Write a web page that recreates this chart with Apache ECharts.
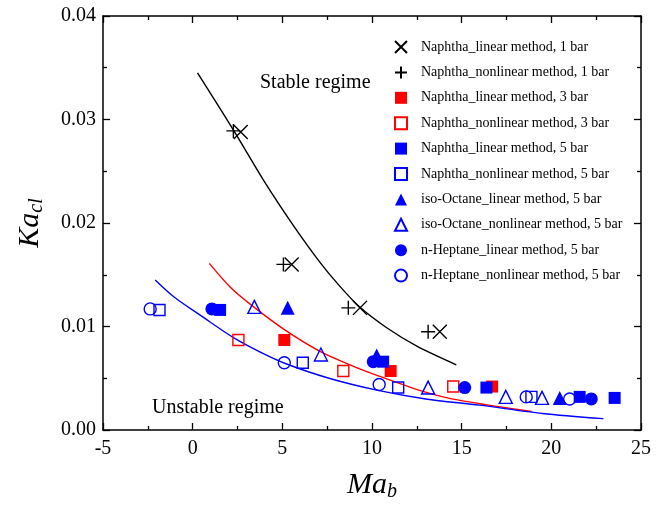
<!DOCTYPE html>
<html><head><meta charset="utf-8">
<script src="https://cdn.jsdelivr.net/npm/echarts@6/dist/echarts.min.js"></script>
<style>html,body{margin:0;padding:0;background:#fff}#c{width:668px;height:507px}</style>
</head><body><div id="c"></div>
<script>
// x ticks / y ticks
const xTicks = [-5, 0, 5, 10, 15, 20, 25];
const yTicks = [0, 0.01, 0.02, 0.03, 0.04];

// marker series [Ma_b, Ka_cl]
const naphLin1 = [[2.68,0.0288],[5.52,0.0160],[9.33,0.0118],[13.78,0.0095]];
const naphNon1 = [[2.27,0.0289],[5.06,0.0160],[8.68,0.0118],[13.13,0.0095]];
const naphLin3 = [[5.11,0.0087],[11.04,0.0057],[16.7,0.0042]];
const naphNon3 = [[2.55,0.0087],[8.4,0.0057],[14.53,0.0042]];
const naphLin5 = [[1.53,0.0116],[10.62,0.0066],[16.38,0.0041],[21.58,0.0032],[23.53,0.0031]];
const naphNon5 = [[-1.85,0.0116],[6.14,0.0065],[11.46,0.0041],[18.89,0.0032]];
const isoLin5 = [[5.3,0.0118],[10.26,0.0072],[20.47,0.0031]];
const isoNon5 = [[3.44,0.0119],[7.15,0.0073],[13.13,0.0041],[17.46,0.0032],[19.48,0.0031]];
const hepLin5 = [[1.07,0.0117],[10.07,0.0066],[15.17,0.0041],[22.23,0.0030]];
const hepNon5 = [[-2.37,0.0117],[5.11,0.0065],[10.4,0.0044],[18.6,0.0032],[21.02,0.0030]];

// fitted curves
const fitBlack = [[0.27,0.0345],[2.3,0.0289],[4.0,0.0240],[5.6,0.0198],[7.1,0.0162],[8.2,0.0139],[9.3,0.0119],[10.8,0.0099],[12.5,0.0081],[14.7,0.0063]];
const fitRed = [[0.93,0.0161],[2.1,0.0138],[3.4,0.0119],[5.2,0.0096],[7.1,0.0076],[8.9,0.0062],[10.4,0.0052],[12.7,0.0038],[14.2,0.0031],[16.5,0.0024],[18.9,0.0018]];
const fitBlue = [[-2.09,0.0145],[-1.0,0.0128],[0.5,0.0110],[2.3,0.0089],[3.8,0.0075],[5.2,0.0064],[7.6,0.0050],[10.4,0.0038],[13.0,0.0030],[16.0,0.0024],[19.5,0.0016],[22.9,0.0011]];

const legendNames = [
  'Naphtha_linear method, 1 bar','Naphtha_nonlinear method, 1 bar',
  'Naphtha_linear method, 3 bar','Naphtha_nonlinear method, 3 bar',
  'Naphtha_linear method, 5 bar','Naphtha_nonlinear method, 5 bar',
  'iso-Octane_linear method, 5 bar','iso-Octane_nonlinear method, 5 bar',
  'n-Heptane_linear method, 5 bar','n-Heptane_nonlinear method, 5 bar'
];

const RED = '#ff0000', BLUE = '#0000ff', BLK = '#000000';
const FONT = '"Liberation Serif", "Times New Roman", serif';
const CROSS = 'path://M0,0L10,10M10,0L0,10';
const PLUS = 'path://M5,0L5,10M0,5L10,5';

function sc(name, data, symbol, size, color, filled) {
  return {
    type: 'scatter', name: name, data: data, symbol: symbol, symbolSize: size,
    itemStyle: filled ? {color: color, borderColor: color, borderWidth: 0, opacity: 1}
                      : {color: 'rgba(0,0,0,0)', borderColor: color, borderWidth: 1.4, opacity: 1},
    z: 5, silent: true
  };
}
function fit(data, color) {
  return {type: 'line', data: data, smooth: 0.3, showSymbol: false, symbol: 'none',
          lineStyle: {color: color, width: 1.4}, silent: true, z: 3};
}

const series = [
  fit(fitBlack, BLK), fit(fitRed, RED), fit(fitBlue, BLUE),
  sc(legendNames[0], naphLin1, CROSS, 14, BLK, false),
  sc(legendNames[1], naphNon1, PLUS, 14, BLK, false),
  sc(legendNames[2], naphLin3, 'rect', 12, RED, true),
  sc(legendNames[3], naphNon3, 'rect', 11, RED, false),
  sc(legendNames[4], naphLin5, 'rect', 12, BLUE, true),
  sc(legendNames[5], naphNon5, 'rect', 11, BLUE, false),
  sc(legendNames[6], isoLin5, 'triangle', 14, BLUE, true),
  sc(legendNames[7], isoNon5, 'triangle', 13, BLUE, false),
  sc(legendNames[8], hepLin5, 'circle', 13, BLUE, true),
  sc(legendNames[9], hepNon5, 'circle', 12, BLUE, false)
];

const axisLine = {show: true, onZero: false, lineStyle: {color: '#000', width: 1.5}};
const chart = echarts.init(document.getElementById('c'), null, {renderer: 'canvas'});
chart.setOption({
  animation: false,
  backgroundColor: '#fff',
  grid: {left: 103, right: 27, top: 16, bottom: 57, containLabel: false},
  legend: {
    data: legendNames, orient: 'vertical', left: 389, top: 35,
    itemWidth: 12, itemHeight: 12, itemGap: 11.4, selectedMode: false,
    textStyle: {fontFamily: FONT, fontSize: 14, color: '#000', padding: [0,0,0,9]}
  },
  xAxis: [{
    type: 'value', min: xTicks[0], max: xTicks[xTicks.length-1], interval: 5,
    axisLine: axisLine,
    axisTick: {show: true, inside: true, length: 7, lineStyle: {color: '#000', width: 1.3}},
    minorTick: {show: true, splitNumber: 2, length: 4, lineStyle: {color: '#000', width: 1.3}},
    splitLine: {show: false},
    axisLabel: {fontFamily: FONT, fontSize: 20, color: '#000', margin: 9},
    name: '{a|Ma}{b|b}', nameLocation: 'middle', nameGap: 38,
    nameTextStyle: {rich: {
      a: {fontFamily: FONT, fontStyle: 'italic', fontSize: 30, color: '#000'},
      b: {fontFamily: FONT, fontStyle: 'italic', fontSize: 20, color: '#000', verticalAlign: 'bottom', padding: [14,0,0,0]}
    }}
  }, {
    type: 'value', position: 'top', min: xTicks[0], max: xTicks[xTicks.length-1], interval: 5,
    axisLine: axisLine,
    axisTick: {show: true, inside: true, length: 7, lineStyle: {color: '#000', width: 1.3}},
    minorTick: {show: true, splitNumber: 2, length: 4, lineStyle: {color: '#000', width: 1.3}},
    splitLine: {show: false}, axisLabel: {show: false}
  }],
  yAxis: [{
    type: 'value', min: yTicks[0], max: yTicks[yTicks.length-1], interval: 0.01,
    axisLine: axisLine,
    axisTick: {show: true, inside: true, length: 7, lineStyle: {color: '#000', width: 1.3}},
    minorTick: {show: true, splitNumber: 2, length: 4, lineStyle: {color: '#000', width: 1.3}},
    splitLine: {show: false},
    axisLabel: {fontFamily: FONT, fontSize: 20, color: '#000', margin: 7,
                formatter: v => v.toFixed(2)},
    name: '{a|Ka}{b|cl}', nameLocation: 'middle', nameGap: 56, nameRotate: 90,
    nameTextStyle: {rich: {
      a: {fontFamily: FONT, fontStyle: 'italic', fontSize: 30, color: '#000'},
      b: {fontFamily: FONT, fontStyle: 'italic', fontSize: 20, color: '#000', verticalAlign: 'bottom', padding: [14,0,0,0]}
    }}
  }, {
    type: 'value', position: 'right', min: yTicks[0], max: yTicks[yTicks.length-1], interval: 0.01,
    axisLine: axisLine,
    axisTick: {show: true, inside: true, length: 7, lineStyle: {color: '#000', width: 1.3}},
    minorTick: {show: true, splitNumber: 2, length: 4, lineStyle: {color: '#000', width: 1.3}},
    splitLine: {show: false}, axisLabel: {show: false}
  }],
  graphic: [
    {type: 'text', left: 260, top: 73, style: {text: 'Stable regime', font: '20px "Liberation Serif", serif', fill: '#000'}},
    {type: 'text', left: 152, top: 398, style: {text: 'Unstable regime', font: '20px "Liberation Serif", serif', fill: '#000'}}
  ],
  series: series
});
</script></body></html>
